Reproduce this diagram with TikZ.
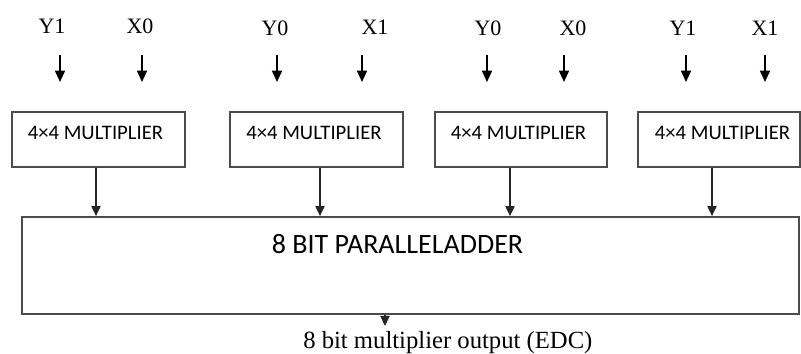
\documentclass[tikz,border=0pt]{standalone}
\usepackage{fontspec}
\setmainfont{Liberation Serif}
\newfontfamily\calibfont{Carlito}
\usetikzlibrary{arrows.meta,calc}
\begin{document}
\begin{tikzpicture}[x=0.75pt,y=-0.75pt,
  mbox/.style={draw=black!70,line width=1.1pt,minimum height=41.25pt,inner sep=0pt},
  mtext/.style={font=\calibfont\fontsize{15.5pt}{18pt}\selectfont,anchor=base,inner sep=0pt},
  inlab/.style={font=\fontsize{16.5pt}{19pt}\selectfont,inner sep=0pt},
  inarr/.style={line width=1.2pt,-{Triangle[width=7.5pt,length=8.5pt]}},
  outarr/.style={line width=0.8pt,draw=black!85,-{Triangle[width=7pt,length=7.5pt]}}]
\useasboundingbox (0,0) rectangle (801,354);
% multiplier boxes
\node[mbox,minimum width=129.75pt] (m1) at (98.5,139.5) {};
\node[mbox,minimum width=129.75pt] (m2) at (316.5,139.5) {};
\node[mbox,minimum width=129pt] (m3) at (521,139.5) {};
\node[mbox,minimum width=121.5pt] (m4) at (719,139.5) {};
\node[mtext] (t1) at (95.5,139.5) {4×4 MULTIPLIER};
\node[mtext] (t2) at (314,139.5) {4×4 MULTIPLIER};
\node[mtext] (t3) at (518.5,139.5) {4×4 MULTIPLIER};
\node[mtext] (t4) at (722.5,139.5) {4×4 MULTIPLIER};
% adder
\node[draw=black!70,line width=1.4pt,minimum width=582.75pt,minimum height=72.75pt,inner sep=0pt] (add) at (410.5,265.5) {};
\node[font=\calibfont\fontsize{21pt}{24pt}\selectfont,anchor=base,inner sep=0pt] (at) at (397.5,253) {8 BIT PARALLELADDER};
% input labels
\node[inlab] (l1) at (52,26) {Y1};
\node[inlab] (l2) at (140,26) {X0};
\node[inlab] (l3) at (275,28) {Y0};
\node[inlab] (l4) at (375,27) {X1};
\node[inlab] (l5) at (488,28) {Y0};
\node[inlab] (l6) at (573,28) {X0};
\node[inlab] (l7) at (683,28) {Y1};
\node[inlab] (l8) at (765,28) {X1};
% input arrows
\foreach \i/\xx in {1/60,2/142,3/277,4/362,5/487,6/564,7/686,8/765}{
  \coordinate (s\i) at (\xx,55);
  \coordinate (e\i) at (\xx,82);
  \draw[inarr] (s\i) -- (e\i);
}
% multiplier outputs to adder
\draw[outarr] ($(m1.south)+(-2.5,0)$) coordinate (o1) -- (o1 |- add.north);
\draw[outarr] ($(m2.south)+(3.5,0)$) coordinate (o2) -- (o2 |- add.north);
\draw[outarr] ($(m3.south)+(-11,0)$) coordinate (o3) -- (o3 |- add.north);
\draw[outarr] ($(m4.south)+(-7,0)$) coordinate (o4) -- (o4 |- add.north);
% output
\coordinate (q) at ($(add.south)+(-25.5,0)$);
\coordinate (qe) at ($(q)+(0,11)$);
\draw[outarr] (q) -- (qe);
\node[font=\fontsize{18.5pt}{21pt}\selectfont,anchor=base west,inner sep=0pt] (out) at (303,348) {8 bit multiplier output (EDC)};
\end{tikzpicture}
\end{document}
